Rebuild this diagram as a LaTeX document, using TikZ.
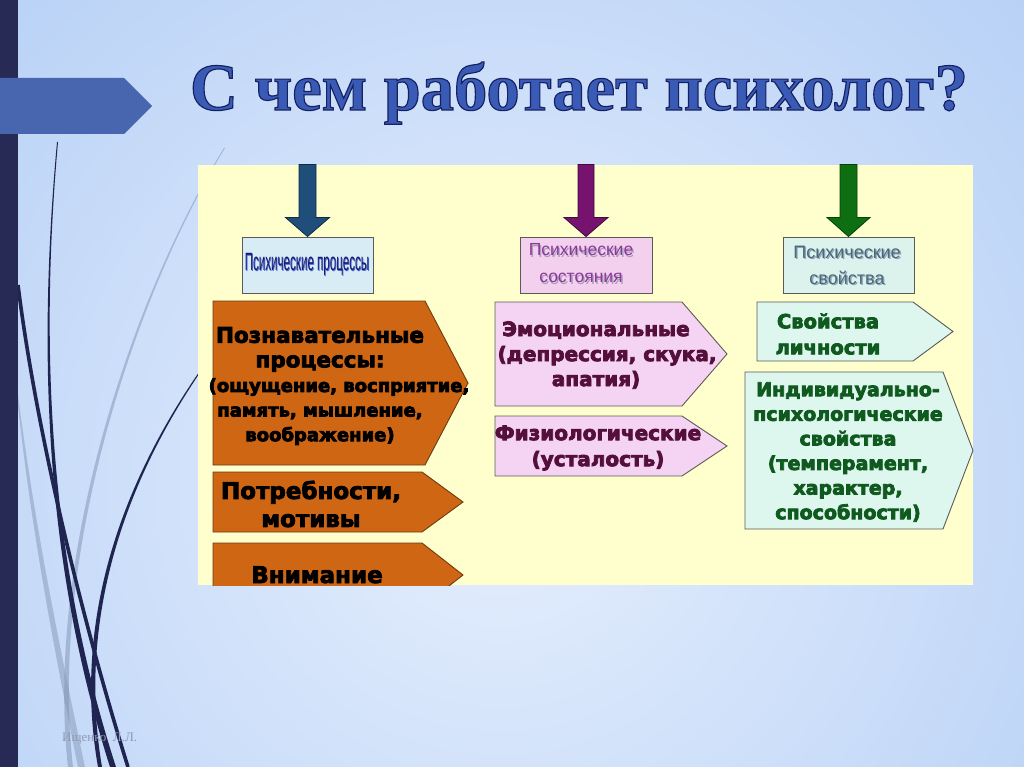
\documentclass[tikz,border=0pt]{standalone}
\usepackage{fontspec}
\setmainfont{DejaVu Sans}
\newfontfamily\titlefont{Liberation Serif}
\newfontfamily\hdrfont{Liberation Sans}
\newfontfamily\wmfont{Liberation Serif}
\definecolor{bgin}{HTML}{E6EFFD}
\definecolor{bgout}{HTML}{A2C3F3}
\definecolor{barnavy}{HTML}{262A55}
\definecolor{tabblue}{HTML}{4865B0}
\definecolor{curvenavy}{HTML}{1F2550}
\definecolor{curvelight}{HTML}{8497B8}
\definecolor{titleblue}{HTML}{3A5BB5}
\definecolor{panelyellow}{HTML}{FFFFCE}
\definecolor{arrnavy}{HTML}{1F4E7A}
\definecolor{arrnavyd}{HTML}{102A45}
\definecolor{arrpurple}{HTML}{75136F}
\definecolor{arrpurpled}{HTML}{3F0A3C}
\definecolor{arrgreen}{HTML}{0E6E12}
\definecolor{arrgreend}{HTML}{07400A}
\definecolor{hbluefill}{HTML}{D7ECF4}
\definecolor{hpinkfill}{HTML}{F3D0EE}
\definecolor{hcyanfill}{HTML}{DCF2EC}
\definecolor{orangefill}{HTML}{CE6614}
\definecolor{orangeedge}{HTML}{6E3A12}
\definecolor{pinkfill}{HTML}{F5D3F2}
\definecolor{cyanfill}{HTML}{DDF6EE}
\definecolor{boxedge}{HTML}{5A5A5A}
\definecolor{pinktext}{HTML}{55103A}
\definecolor{greentext}{HTML}{0F5A1F}
\definecolor{h1text}{HTML}{1A1A6A}
\definecolor{h1shadow}{HTML}{4A6BE0}
\definecolor{h2text}{HTML}{8A3A9A}
\definecolor{h2shadow}{HTML}{A9A0B8}
\definecolor{h3text}{HTML}{4A6878}
\definecolor{h3shadow}{HTML}{8FA4B8}
\definecolor{wmgrey}{HTML}{8D9BB3}
\newcommand\shd[3]{\makebox[0pt][l]{\hspace{1.3pt}\raisebox{-1.3pt}{\textcolor{#1}{#3}}}\textcolor{#2}{#3}}
\newcommand\outlined[1]{\special{pdf:literal direct 2 Tr 1.1 w 0.09 0.13 0.38 RG}#1\special{pdf:literal direct 0 Tr 0 0 0 RG}}
\newcommand\heavyon[1]{\special{pdf:literal direct 2 Tr 0.75 w #1 RG}}
\newcommand\heavyoff{\special{pdf:literal direct 0 Tr 0 0 0 RG}}
\newcommand\pentagon[6]{\filldraw[#6] (#1,#2) -- (#3,#2) -- (#4,{(#2+#5)/2}) -- (#3,#5) -- (#1,#5) -- cycle;}
\tikzset{
  hdrbox/.style={draw=boxedge, line width=0.9pt, inner sep=0pt, minimum width=131pt, minimum height=56pt},
  boxtext/.style={align=center, inner sep=0pt},
  orangebox/.style={fill=orangefill, draw=orangeedge, line width=0.9pt},
  pinkbox/.style={fill=pinkfill, draw=boxedge, line width=0.9pt},
  cyanbox/.style={fill=cyanfill, draw=boxedge, line width=0.9pt},
}
\begin{document}
\begin{tikzpicture}[x=1pt,y=-1pt]
\useasboundingbox (0,0) rectangle (1024,767);
% background
\fill[bgout] (0,0) rectangle (1024,767);
\begin{scope}
  \clip (0,0) rectangle (1024,767);
  \shade[inner color=bgin, outer color=bgout] (500,480) circle (1050pt);
\end{scope}
% light decorative curves
\fill[curvelight, opacity=0.55] (224,148) .. controls (130,300) and (45,560) .. (68,767) -- (73,767) .. controls (49,560) and (132,300) .. (225,148) -- cycle;
\fill[curvelight, opacity=0.5] (18,405) .. controls (30,520) and (52,640) .. (78,767) -- (85,767) .. controls (58,640) and (34,520) .. (18,395) -- cycle;
% dark decorative curves
\draw[curvenavy, line width=3.6pt] (18,285) .. controls (36,430) and (82,620) .. (128,767);
\fill[curvenavy] (57,142) .. controls (38,350) and (44,560) .. (110,767) -- (116,767) .. controls (49,560) and (39.5,350) .. (58,142) -- cycle;
\fill[curvenavy] (230,330) .. controls (120,470) and (72,620) .. (98,767) -- (102,767) .. controls (77,620) and (122,470) .. (231,330) -- cycle;
% left bar and tab
\fill[barnavy] (0,0) rectangle (18,767);
\fill[tabblue] (0,78) -- (124,78) -- (152,106) -- (124,134) -- (0,134) -- cycle;
% title
\node[anchor=base, inner sep=0pt, text=titleblue, font=\titlefont\bfseries\fontsize{64}{70}\selectfont] (title) at (579,110) {\scalebox{1.04}[1.05]{\outlined{С чем работает психолог?}}};
% panel
\node[fill=panelyellow, inner sep=0pt, minimum width=775pt, minimum height=420pt, anchor=north west] (panel) at (198,165) {};
% header boxes
\node[hdrbox, fill=hbluefill] (h1) at (307.5,265) {};
\node[hdrbox, fill=hpinkfill, minimum width=132pt] (h2) at (586,265) {};
\node[hdrbox, fill=hcyanfill] (h3) at (848.5,265) {};
\node[boxtext, font=\hdrfont\fontsize{20}{22}\selectfont] (h1t) at (307,265) {\scalebox{0.58}[1.25]{\shd{h1shadow}{h1text}{Психические процессы}}};
\node[boxtext, font=\hdrfont\fontsize{17.5}{27}\selectfont] (h2t) at (581,264) {\shd{h2shadow}{h2text}{Психические}\\\shd{h2shadow}{h2text}{состояния}};
\node[boxtext, font=\hdrfont\fontsize{18}{26}\selectfont] (h3t) at (847,266) {\shd{h3shadow}{h3text}{Психические}\\\shd{h3shadow}{h3text}{свойства}};
% block arrows into header boxes
\filldraw[fill=arrnavy, draw=arrnavyd, line width=0.8pt] (h1.north) -- ++(22,-19) -- ++(-13.5,0) -- ++(0,-53) -- ++(-17,0) -- ++(0,53) -- ++(-13.5,0) -- cycle;
\filldraw[fill=arrpurple, draw=arrpurpled, line width=0.8pt] (h2.north) -- ++(22,-19) -- ++(-14,0) -- ++(0,-53) -- ++(-16,0) -- ++(0,53) -- ++(-14,0) -- cycle;
\filldraw[fill=arrgreen, draw=arrgreend, line width=0.8pt] (h3.north) -- ++(21.5,-19) -- ++(-13,0) -- ++(0,-53) -- ++(-17,0) -- ++(0,53) -- ++(-13,0) -- cycle;
% orange column
\pentagon{213}{301}{425}{468}{465}{orangebox}
\pentagon{213}{472}{422}{463}{532}{orangebox}
\begin{scope}
  \clip (198,165) rectangle (973,585);
  \pentagon{213}{543}{422}{463}{607}{orangebox}
\end{scope}
\node[boxtext, font=\bfseries\fontsize{18}{24.6}\selectfont] (o1) at (320,386)
  {\heavyon{0 0 0}{\fontsize{21.5}{24}\selectfont Познавательные}\\{\fontsize{21.5}{24}\selectfont процессы:}\\\hspace*{38pt}(ощущение, восприятие,\\память, мышление,\\воображение)\heavyoff};
\node[boxtext, font=\bfseries\fontsize{23}{28}\selectfont] (o2) at (311,504) {\heavyon{0 0 0}Потребности,\\мотивы\heavyoff};
\node[boxtext, anchor=base, font=\bfseries\fontsize{23}{28}\selectfont] (o3) at (317,583) {\heavyon{0 0 0}Внимание\heavyoff};
% pink column
\pentagon{495}{302}{682}{727}{406}{pinkbox}
\pentagon{495}{416}{682}{727}{476}{pinkbox}
\node[boxtext, text=pinktext, font=\bfseries\fontsize{20}{25}\selectfont] (p1) at (596,355) {\heavyon{0.33 0.06 0.23}Эмоциональные\\\hspace*{22pt}(депрессия, скука,\\апатия)\heavyoff};
\node[boxtext, text=pinktext, font=\bfseries\fontsize{20}{26}\selectfont] (p2) at (598,448) {\heavyon{0.33 0.06 0.23}Физиологические\\(усталость)\heavyoff};
% cyan column
\pentagon{757}{302}{913}{953}{361}{cyanbox}
\pentagon{745}{372}{943}{973}{529}{cyanbox}
\node[boxtext, text=greentext, font=\bfseries\fontsize{19.5}{26}\selectfont] (c1) at (828,334) {\heavyon{0.06 0.35 0.12}Свойства\\личности\heavyoff};
\node[boxtext, text=greentext, font=\bfseries\fontsize{19}{24.6}\selectfont] (c2) at (848,452) {\heavyon{0.06 0.35 0.12}Индивидуально-\\психологические\\свойства\\(темперамент,\\характер,\\способности)\heavyoff};
% watermark
\node[anchor=base west, inner sep=0pt, text=wmgrey, font=\wmfont\fontsize{13}{15}\selectfont] (wm) at (62,741) {Ищенко\ \ Л.Л.};
\end{tikzpicture}
\end{document}
